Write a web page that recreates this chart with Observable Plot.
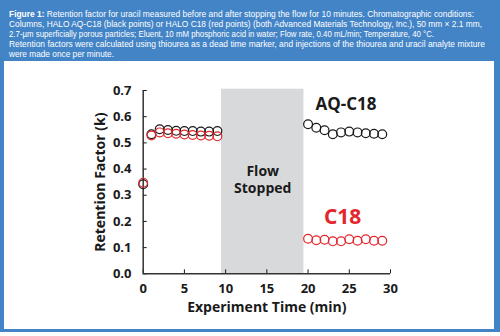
<!DOCTYPE html>
<html><head><meta charset="utf-8">
<script src="https://cdn.jsdelivr.net/npm/d3@7"></script>
<script src="https://cdn.jsdelivr.net/npm/@observablehq/plot@0.6"></script>
<style>
html,body{margin:0;padding:0;background:#fff;width:500px;height:336px;overflow:hidden;}
#hdr{position:absolute;left:0;top:0;width:500px;height:61px;background:#4384c7;color:#fff;
 font-family:"Liberation Sans",Arial,sans-serif;font-size:8.8px;line-height:10px;box-sizing:border-box;padding:9px 0 0 9px;white-space:nowrap;}
#hdr b{font-weight:bold;}
#hdr span{display:block;transform-origin:0 0;width:max-content;}
#panel{position:absolute;left:0;top:61px;width:500px;height:271px;box-sizing:border-box;border-left:4px solid #4384c7;border-right:6px solid #4384c7;border-bottom:3px solid #4384c7;background:#fff;}
#chart{position:absolute;left:0;top:0;}
</style></head><body>
<div id="hdr"><span data-w="465"><b>Figure 1:</b> Retention factor for uracil measured before and after stopping the flow for 10 minutes. Chromatographic conditions:</span><span data-w="473">Columns, HALO AQ-C18 (black points) or HALO C18 (red points) (both Advanced Materials Technology, Inc.), 50 mm × 2.1 mm,</span><span data-w="425">2.7-µm superficially porous particles; Eluent, 10 mM phosphoric acid in water; Flow rate, 0.40 mL/min; Temperature, 40 °C.</span><span data-w="476">Retention factors were calculated using thiourea as a dead time marker, and injections of the thiourea and uracil analyte mixture</span><span data-w="105">were made once per minute.</span></div>
<div id="panel"><div id="chart"></div></div>
<script>
document.querySelectorAll("#hdr span").forEach(s => {
  const w = s.getBoundingClientRect().width;
  s.style.transform = `scaleX(${(+s.dataset.w)/w})`;
});
const times = [0,1,2,3,4,5,6,7,8,9,20,21,22,23,24,25,26,27,28,29];
const aqC18 = [0.342,0.533,0.552,0.549,0.546,0.545,0.545,0.543,0.543,0.545,0.571,0.558,0.548,0.533,0.540,0.543,0.540,0.537,0.535,0.533];
const c18 = [0.348,0.528,0.540,0.537,0.535,0.532,0.530,0.528,0.527,0.525,0.134,0.128,0.130,0.124,0.124,0.132,0.126,0.132,0.126,0.126];
const xTicks = [0,5,10,15,20,25,30];
const yTicks = [0,0.1,0.2,0.3,0.4,0.5,0.6,0.7];
const stopStart = [9.5], stopEnd = [19.5];
const labels = [
  {text:"AQ-C18", x:24.6, y:0.645, color:"#1a1a1a", size:17},
  {text:"C18", x:24.2, y:0.216, color:"#e3262b", size:21},
  {text:"Flow", x:14.5, y:0.389, color:"#1a1a1a", size:14},
  {text:"Stopped", x:14.5, y:0.326, color:"#1a1a1a", size:14}
];
const aqData = times.map((t,i)=>({t, k:aqC18[i]}));
const c18Data = times.map((t,i)=>({t, k:c18[i]}));
const font = "'Open Sans', sans-serif";
const plot = Plot.plot({
  width: 490, height: 268,
  marginLeft: 138.7, marginRight: 104, marginTop: 29, marginBottom: 55.7,
  style: {fontFamily: font, fontWeight: 700, fontSize: "12px", color:"#1a1a1a", background:"transparent"},
  x: {domain:[0,30]},
  y: {domain:[0,0.7]},
  marks: [
    Plot.rectY(stopStart.map((s,i)=>({x1:s, x2:stopEnd[i]})), {x1:"x1", x2:"x2", y1:0, y2:0.705, fill:"#d8d9db"}),
    Plot.axisX({ticks:[], label:"Experiment Time (min)", labelArrow:"none", labelAnchor:"center", labelOffset:38, fontSize:14}),
    Plot.axisX({ticks:xTicks, tickSize:-4, tickPadding:14, tickFormat:d=>d, label:null, fontSize:13}),
    Plot.axisY({ticks:yTicks, tickSize:-4, tickPadding:15.7, tickFormat:d3.format(".1f"), label:null, fontSize:13}),
    Plot.axisY({ticks:[], label:"Retention Factor (k)", labelArrow:"none", labelAnchor:"center", labelOffset:48, fontSize:14}),
    Plot.ruleY([0], {stroke:"#333", strokeWidth:1.5}),
    Plot.ruleX([0], {stroke:"#333", strokeWidth:1.5}),
    Plot.dot(aqData, {x:"t", y:"k", r:4.4, stroke:"#1a1a1a", strokeWidth:1.2, fill:"none"}),
    Plot.dot(c18Data, {x:"t", y:"k", r:4.4, stroke:"#e3262b", strokeWidth:1.2, fill:"none"}),
    Plot.text(labels, {x:"x", y:"y", text:"text", fill:"color", fontSize:"size", fontWeight:700})
  ]
});
document.getElementById("chart").appendChild(plot);
</script>
</body></html>
